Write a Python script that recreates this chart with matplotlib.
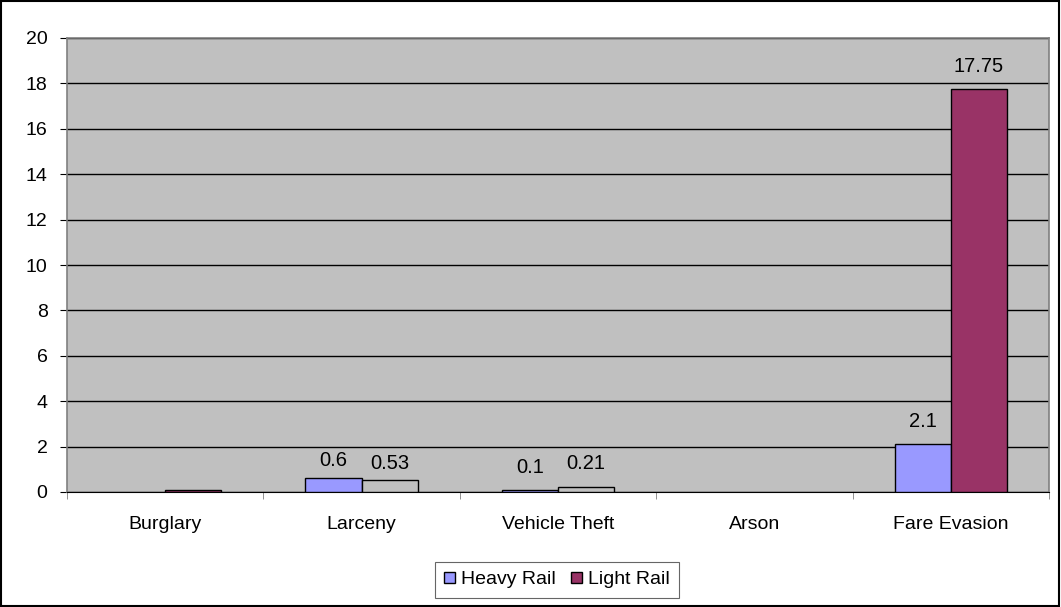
import matplotlib.pyplot as plt
import numpy as np
from matplotlib.patches import Rectangle

plt.rcParams["font.family"] = ["Liberation Sans", "DejaVu Sans"]

categories = ["Burglary", "Larceny", "Vehicle Theft", "Arson", "Fare Evasion"]
heavy_rail = [0.0, 0.6, 0.1, 0.0, 2.1]
light_rail = [0.08, 0.53, 0.21, 0.0, 17.75]
heavy_labels = [None, "0.6", "0.1", None, "2.1"]
light_labels = [None, "0.53", "0.21", None, "17.75"]
# the reference draws these light rail bars with the plot-area fill
light_hollow = [False, True, True, False, False]

HEAVY_COLOR = "#9999FF"
LIGHT_COLOR = "#993366"
PLOT_BG = "#C0C0C0"
FS = 14

fig = plt.figure(figsize=(10.61, 6.07), dpi=100)
fig.add_artist(Rectangle((0.0005, 0.001), 0.998, 0.997, transform=fig.transFigure,
                         fill=False, edgecolor="black", linewidth=1.5))

ax = fig.add_axes([67 / 1061, 1 - 492 / 607, (1049 - 67) / 1061, (492 - 38) / 607])
ax.set_facecolor(PLOT_BG)

x = np.arange(len(categories))
w = 1 / 3.5
heavy_lw = [1 if v > 0 else 0 for v in heavy_rail]
light_lw = [1 if v > 0 else 0 for v in light_rail]
ax.bar(x - w / 2, heavy_rail, width=w, color=HEAVY_COLOR, edgecolor="black",
       linewidth=heavy_lw, zorder=3)
light_faces = [PLOT_BG if h else LIGHT_COLOR for h in light_hollow]
ax.bar(x + w / 2, light_rail, width=w, color=light_faces, edgecolor="black",
       linewidth=light_lw, zorder=3)

# label baseline offsets (px above the bar top), as placed in the reference
heavy_off = [0, 12, 17, 0, 17]
light_off = [0, 11, 18, 0, 17]
for i in range(len(categories)):
    if heavy_labels[i]:
        ax.annotate(heavy_labels[i], (x[i] - w / 2, heavy_rail[i]),
                    xytext=(0, heavy_off[i] * 0.72), textcoords="offset points",
                    ha="center", va="baseline", fontsize=FS + 0.5)
    if light_labels[i]:
        ax.annotate(light_labels[i], (x[i] + w / 2, light_rail[i]),
                    xytext=(0, light_off[i] * 0.72), textcoords="offset points",
                    ha="center", va="baseline", fontsize=FS + 0.5)

ax.set_xlim(-0.5, len(categories) - 0.5)
ax.set_ylim(0, 20)
ax.set_yticks(np.arange(0, 21, 2))
ax.yaxis.grid(True, color="black", linewidth=1, zorder=1)
ax.set_axisbelow(True)

ax.set_xticks(x)
ax.set_xticklabels(categories, fontsize=FS)
ax.set_xticks(np.arange(-0.5, len(categories)), minor=True)
ax.tick_params(axis="x", which="major", length=0, pad=17)
ax.tick_params(axis="x", which="minor", length=5, color="#808080", direction="out")
ax.tick_params(axis="y", length=5, direction="out", labelsize=FS, pad=9)

for side in ["top", "right", "left"]:
    ax.spines[side].set_color("#808080")
    ax.spines[side].set_linewidth(1.2)
ax.spines["bottom"].set_color("black")

handles = [Rectangle((0, 0), 1, 1, facecolor=HEAVY_COLOR, edgecolor="black"),
           Rectangle((0, 0), 1, 1, facecolor=LIGHT_COLOR, edgecolor="black")]
leg = fig.legend(handles, ["Heavy Rail", "Light Rail"], loc="center",
                 bbox_to_anchor=(557 / 1061, 1 - 580 / 607), ncol=2, fontsize=FS,
                 frameon=True, fancybox=False, handlelength=0.55, handleheight=0.55,
                 handletextpad=0.3, columnspacing=0.8, borderpad=0.5, borderaxespad=0)
leg.get_frame().set_edgecolor("#404040")
leg.get_frame().set_linewidth(0.8)

fig.savefig("out.png", dpi=100)
